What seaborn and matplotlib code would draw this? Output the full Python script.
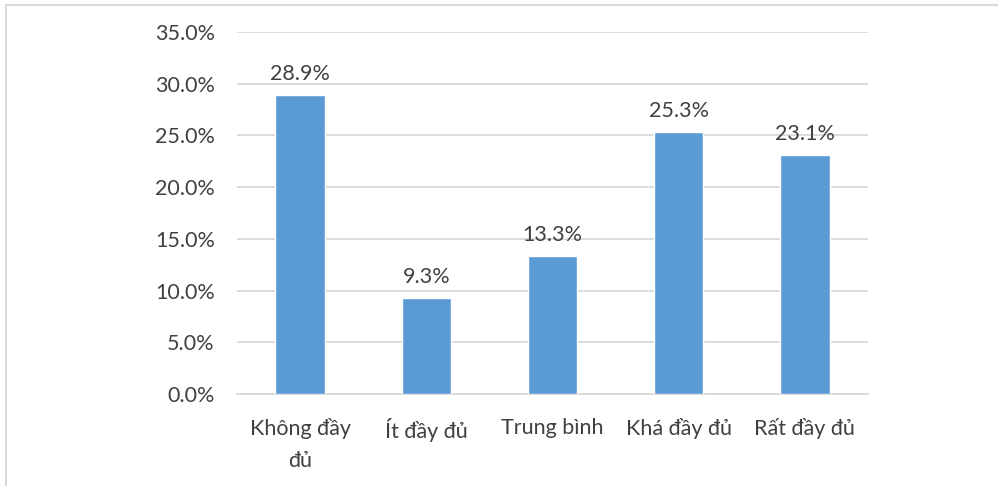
import matplotlib
matplotlib.use("Agg")
import matplotlib.pyplot as plt
import seaborn as sns
import pandas as pd
from matplotlib.patches import Rectangle

categories = ["Không đầy\nđủ", "Ít đầy đủ", "Trung bình", "Khá đầy đủ", "Rất đầy đủ"]
values = [28.9, 9.3, 13.3, 25.3, 23.1]
y_ticks = [0, 5, 10, 15, 20, 25, 30, 35]

sns.set_theme(style="white")
plt.rcParams["font.family"] = ["Lato", "Open Sans", "DejaVu Sans"]

W, H = 998, 486
fs = 15.5
fig = plt.figure(figsize=(W / 100, H / 100), dpi=100)
ax = fig.add_axes([237 / W, 1 - 394 / H, (868 - 237) / W, (394 - 32) / H])

df = pd.DataFrame({"cat": categories, "val": values})
sns.barplot(data=df, x="cat", y="val", color="#5B9BD5", saturation=1,
            width=0.39, ax=ax, zorder=3)

ax.set_ylim(0, 35)
ax.set_yticks(y_ticks)
ax.set_yticklabels([f"{t:.1f}%" for t in y_ticks], fontsize=fs, color="#404040")
ax.tick_params(axis="x", labelsize=fs, labelcolor="#404040", pad=17, length=0)
ax.tick_params(axis="y", pad=16, length=0)
for lbl in ax.get_xticklabels():
    lbl.set_linespacing(1.75)
ax.set_xlabel("")
ax.set_ylabel("")
ax.grid(axis="y", color="#d9d9d9", linewidth=1.3, zorder=0)
ax.grid(axis="x", visible=False)
for s in ["top", "right", "left"]:
    ax.spines[s].set_visible(False)
ax.spines["bottom"].set_color("#d9d9d9")
ax.spines["bottom"].set_linewidth(1.3)

for p, v in zip(ax.patches, values):
    ax.annotate(f"{v:.1f}%", (p.get_x() + p.get_width() / 2, v),
                xytext=(0, 8), textcoords="offset points",
                ha="center", va="bottom", fontsize=fs, color="#404040")

fig.patches.append(Rectangle((6 / W, -0.1), 1.2, 1.1 - 5 / H, transform=fig.transFigure,
                             fill=False, edgecolor="#d9d9d9", linewidth=1.5))

fig.savefig("out.png", dpi=100, facecolor="white")
